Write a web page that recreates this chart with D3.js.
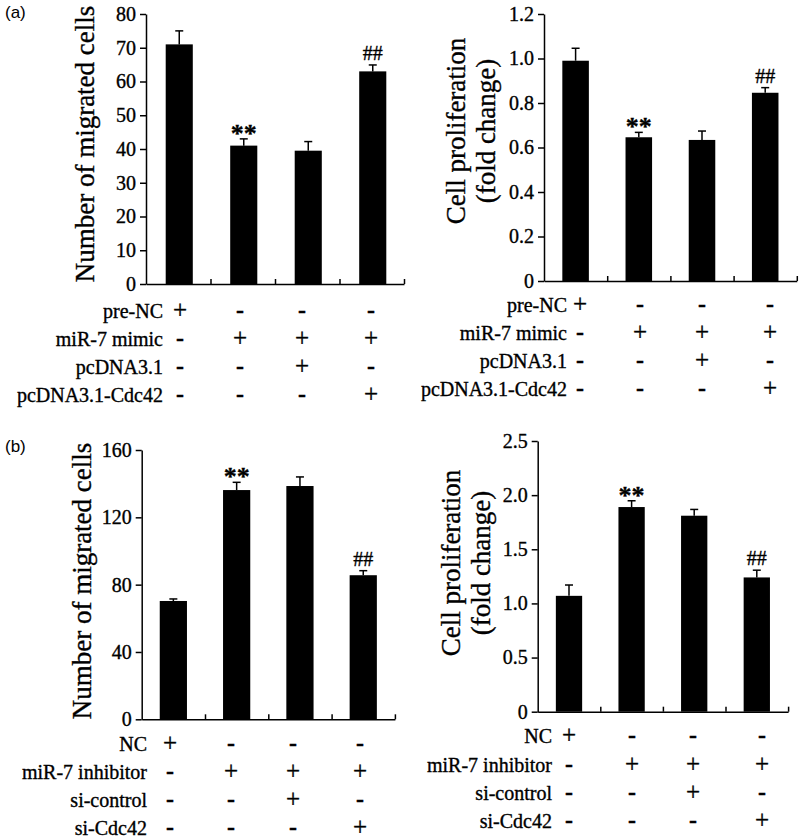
<!DOCTYPE html>
<html><head><meta charset="utf-8">
<script src="https://cdn.jsdelivr.net/npm/d3@7"></script>
<style>
html,body{margin:0;padding:0;background:#fff;}
svg{display:block;}
svg text{font-family:"Liberation Serif","Times New Roman",Times,serif;stroke:#000;stroke-width:0.35px;}
svg text.sans{font-family:"Liberation Sans",Arial,sans-serif;stroke:none;}
</style></head>
<body>
<svg id="chart" width="800" height="840"></svg>
<script>
// ---------- DATA ----------
const groups = ["G1","G2","G3","G4"];

// (a) left: migrated cells
const aMigValues = [71, 41, 39.5, 63];
const aMigErrors = [4, 2, 2.7, 1.9];
const aMigTicks = [0,10,20,30,40,50,60,70,80];
const aMigMarks = ["", "**", "", "##"];

// (a) right: proliferation
const aProValues = [0.99, 0.646, 0.634, 0.846];
const aProErrors = [0.056, 0.022, 0.04, 0.023];
const aProTicks = [0,0.2,0.4,0.6,0.8,1.0,1.2];
const aProMarks = ["", "**", "", "##"];

// (b) left: migrated cells
const bMigValues = [70.3, 136.2, 138.6, 85.6];
const bMigErrors = [1.2, 4.6, 5.4, 2.7];
const bMigTicks = [0,40,80,120,160];
const bMigMarks = ["", "**", "", "##"];

// (b) right: proliferation
const bProValues = [1.07, 1.89, 1.81, 1.24];
const bProErrors = [0.1, 0.058, 0.058, 0.067];
const bProTicks = [0,0.5,1.0,1.5,2.0,2.5];
const bProMarks = ["", "**", "", "##"];

// treatment tables
const aRowLabels = ["pre-NC", "miR-7 mimic", "pcDNA3.1", "pcDNA3.1-Cdc42"];
const aRowSigns = [
  ["+","-","-","-"],
  ["-","+","+","+"],
  ["-","-","+","-"],
  ["-","-","-","+"]
];
const bRowLabels = ["NC", "miR-7 inhibitor", "si-control", "si-Cdc42"];
const bRowSigns = [
  ["+","-","-","-"],
  ["-","+","+","+"],
  ["-","-","+","-"],
  ["-","-","-","+"]
];

// ---------- DRAW ----------
const svg = d3.select("#chart");
const SERIF = '"Liberation Serif","Times New Roman",Times,serif';

function panel(cfg){
  const g = svg.append("g");
  const y = d3.scaleLinear().domain([0, cfg.max]).range([cfg.y0, cfg.yTop]);
  const x = d3.scaleBand().domain(groups)
      .range([cfg.x0, cfg.x0 + 4*cfg.step])
      .paddingInner(cfg.pad).paddingOuter(cfg.pad/2);
  const xl = d3.scaleLinear().domain([0,4]).range([cfg.x0, cfg.x0 + 4*cfg.step]);

  // bars
  g.selectAll("rect.bar").data(cfg.values).join("rect")
    .attr("x",(d,i)=>x(groups[i]) + cfg.shift)
    .attr("width", x.bandwidth())
    .attr("y", d=>y(d))
    .attr("height", d=>cfg.y0 - y(d))
    .attr("fill","#000");

  // error bars (upper only)
  cfg.values.forEach((v,i)=>{
    const cx = x(groups[i]) + cfg.shift + x.bandwidth()/2;
    const top = y(v + cfg.errors[i]);
    g.append("line").attr("x1",cx).attr("x2",cx).attr("y1",y(v)).attr("y2",top)
      .attr("stroke","#000").attr("stroke-width",1.5);
    g.append("line").attr("x1",cx-4).attr("x2",cx+4).attr("y1",top).attr("y2",top)
      .attr("stroke","#000").attr("stroke-width",1.5);
    const m = cfg.marks[i];
    if(m === "**"){
      g.append("text").attr("x",cx).attr("y",top+3).attr("text-anchor","middle")
        .style("font-family",SERIF).attr("font-weight","bold").attr("font-size",26)
        .text(m);
    } else if(m === "##"){
      g.append("text").attr("x",cx).attr("y",top-5).attr("text-anchor","middle")
        .style("font-family",SERIF).attr("font-size",20)
        .text(m);
    }
  });

  // y axis
  const ya = g.append("g").attr("transform",`translate(${cfg.x0},0)`)
    .call(d3.axisLeft(y).tickValues(cfg.ticks).tickSize(6).tickSizeOuter(0).tickPadding(4)
      .tickFormat(cfg.fmt));
  ya.attr("font-family",null);
  ya.select(".domain").attr("stroke-width",1.5);
  ya.selectAll(".tick line").attr("stroke-width",1.5);
  ya.selectAll("text").style("font-family",SERIF).attr("font-size",20).attr("fill","#000");

  // x axis
  const xa = g.append("g").attr("transform",`translate(0,${cfg.y0})`)
    .call(d3.axisBottom(xl).tickValues([1,2,3,4]).tickSize(-5).tickSizeOuter(0).tickFormat(""));
  xa.select(".domain").attr("stroke-width",1.5);
  xa.selectAll(".tick line").attr("stroke-width",1.5);

  // y label
  cfg.ylabel.forEach((t,k)=>{
    g.append("text")
      .attr("transform",`translate(${cfg.ylx[k]},${cfg.ylc}) rotate(-90)`)
      .attr("text-anchor","middle")
      .style("font-family",SERIF).attr("font-size",cfg.ylSize)
      .text(t);
  });

  // treatment table
  const cols = d3.scaleLinear().domain([0,1,2,3]).range(cfg.cols);
  cfg.rows.forEach((lab,r)=>{
    const by = cfg.rowY0 + r*cfg.rowStep;
    g.append("text").attr("x",cfg.labelX).attr("y",by).attr("text-anchor","end")
      .style("font-family",SERIF).attr("font-size",20).text(lab);
    cfg.signs[r].forEach((s,c)=>{
      g.append("text").attr("x",cols(c)).attr("y",by).attr("text-anchor","middle")
        .style("font-family",SERIF)
        .attr("font-size", s==="+" ? 25 : 24)
        .attr("font-weight", s==="+" ? "normal" : "bold")
        .text(s);
    });
  });
}

const fmt1 = d => d===0 ? "0" : d3.format(".1f")(d);

panel({max:80, y0:284, yTop:14, x0:146, step:64.5, pad:0.58, shift:1,
  values:aMigValues, errors:aMigErrors, ticks:aMigTicks, marks:aMigMarks, fmt:d3.format("d"),
  ylabel:["Number of migrated cells"], ylx:[94], ylc:144, ylSize:27,
  rows:aRowLabels, signs:aRowSigns, labelX:163, cols:[180,240,302,371], rowY0:318, rowStep:28});

panel({max:1.2, y0:281, yTop:14, x0:544, step:63.2, pad:0.58, shift:0,
  values:aProValues, errors:aProErrors, ticks:aProTicks, marks:aProMarks, fmt:fmt1,
  ylabel:["Cell proliferation","(fold change)"], ylx:[465,495], ylc:131, ylSize:27,
  rows:aRowLabels, signs:aRowSigns, labelX:567, cols:[580,640,702,770], rowY0:311.5, rowStep:28.3});

panel({max:160, y0:719.3, yTop:450, x0:141.7, step:63.3, pad:0.57, shift:0,
  values:bMigValues, errors:bMigErrors, ticks:bMigTicks, marks:bMigMarks, fmt:d3.format("d"),
  ylabel:["Number of migrated cells"], ylx:[91], ylc:581, ylSize:27,
  rows:bRowLabels, signs:bRowSigns, labelX:147, cols:[170,231,293,360], rowY0:750.5, rowStep:28.2});

panel({max:2.5, y0:711.7, yTop:441, x0:537.7, step:62.6, pad:0.58, shift:0,
  values:bProValues, errors:bProErrors, ticks:bProTicks, marks:bProMarks, fmt:fmt1,
  ylabel:["Cell proliferation","(fold change)"], ylx:[460,490], ylc:563, ylSize:27,
  rows:bRowLabels, signs:bRowSigns, labelX:552, cols:[569,632,693,762], rowY0:743.3, rowStep:28.3});

// panel letters
svg.append("text").attr("class","sans").attr("x",5).attr("y",18)
  .attr("font-size",17).text("(a)");
svg.append("text").attr("class","sans").attr("x",5).attr("y",452)
  .attr("font-size",17).text("(b)");
</script>
</body></html>
